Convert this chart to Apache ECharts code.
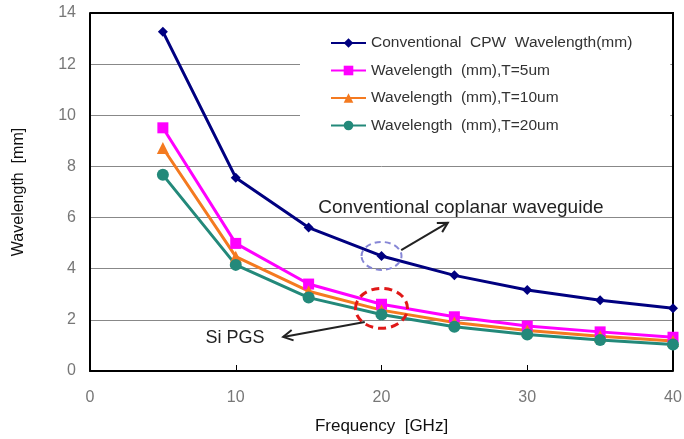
<!DOCTYPE html>
<html>
<head>
<meta charset="utf-8">
<script src="https://cdn.jsdelivr.net/npm/echarts@6/dist/echarts.min.js"></script>
<style>
  html, body { margin: 0; padding: 0; background: #fff; }
  #chart { width: 684px; height: 439px; }
</style>
</head>
<body>
<div id="chart"></div>
<script>
// Frequency points (GHz)
const frequency = [5, 10, 15, 20, 25, 30, 35, 40];

// Guided wavelength (mm)
const cpwWavelength = [13.27, 7.56, 5.61, 4.50, 3.74, 3.17, 2.77, 2.45];
const pgsT5 = [9.51, 4.99, 3.40, 2.61, 2.12, 1.76, 1.53, 1.32];
const pgsT10 = [8.72, 4.47, 3.12, 2.38, 1.90, 1.58, 1.36, 1.17];
const pgsT20 = [7.67, 4.15, 2.87, 2.21, 1.73, 1.43, 1.21, 1.04];

const seriesNames = [
  'Conventional  CPW  Wavelength(mm)',
  'Wavelength  (mm),T=5um',
  'Wavelength  (mm),T=10um',
  'Wavelength  (mm),T=20um'
];

const xTicks = [0, 10, 20, 30, 40];
const yTicks = [0, 2, 4, 6, 8, 10, 12, 14];

const pair = (vals) => frequency.map((f, i) => [f, vals[i]]);

const chart = echarts.init(document.getElementById('chart'));

const labelFont = 'Liberation Sans, Arial, sans-serif';

function lineSeries(name, vals, color, symbol, size) {
  return {
    name: name,
    type: 'line',
    data: pair(vals),
    symbol: symbol,
    symbolSize: size,
    showSymbol: true,
    lineStyle: { color: color, width: 3 },
    itemStyle: { color: color },
    z: 3
  };
}

chart.setOption({
  animation: false,
  backgroundColor: '#fff',
  grid: { left: 90, right: 11, top: 13, bottom: 68, show: false, outerBoundsMode: 'none' },
  xAxis: {
    type: 'value',
    min: xTicks[0],
    max: xTicks[xTicks.length - 1],
    interval: 10,
    name: 'Frequency  [GHz]',
    nameLocation: 'middle',
    nameGap: 47,
    nameTextStyle: { color: '#111', fontSize: 17, fontFamily: labelFont },
    axisLine: { show: true, lineStyle: { color: '#000', width: 2 } },
    axisTick: { show: true, inside: true, length: 6, lineStyle: { color: '#000' } },
    axisLabel: { color: '#777', fontSize: 16, margin: 19, fontFamily: labelFont },
    splitLine: { show: false }
  },
  yAxis: {
    type: 'value',
    min: yTicks[0],
    max: yTicks[yTicks.length - 1],
    interval: 2,
    name: 'Wavelength  [mm]',
    nameLocation: 'middle',
    nameGap: 63,
    nameTextStyle: { color: '#111', fontSize: 16, fontFamily: labelFont },
    axisLine: { show: true, lineStyle: { color: '#000', width: 2 } },
    axisTick: { show: false },
    axisLabel: { color: '#777', fontSize: 16, margin: 14, fontFamily: labelFont },
    splitLine: { show: true, lineStyle: { color: '#888', width: 1 } }
  },
  legend: {
    left: 300,
    top: 21,
    orient: 'vertical',
    backgroundColor: '#fff',
    padding: [14, 38, 14, 30],
    itemWidth: 35,
    itemHeight: 12,
    itemGap: 11.5,
    textStyle: { color: '#333', fontSize: 15.5, fontFamily: labelFont },
    data: seriesNames
  },
  series: [
    lineSeries(seriesNames[0], cpwWavelength, '#000080', 'diamond', 10),
    lineSeries(seriesNames[1], pgsT5, '#ff00ff', 'rect', 11),
    lineSeries(seriesNames[2], pgsT10, '#f47a20', 'triangle', 12),
    lineSeries(seriesNames[3], pgsT20, '#23897a', 'circle', 12)
  ]
});

const px = (x, y) => chart.convertToPixel({ gridIndex: 0 }, [x, y]);

// Open-headed arrow between two data positions
function arrow(from, to, color) {
  const a = px(from[0], from[1]);
  const b = px(to[0], to[1]);
  const ang = Math.atan2(b[1] - a[1], b[0] - a[0]);
  const len = 11, spread = 0.5;
  const h1 = [b[0] - len * Math.cos(ang - spread), b[1] - len * Math.sin(ang - spread)];
  const h2 = [b[0] - len * Math.cos(ang + spread), b[1] - len * Math.sin(ang + spread)];
  return [
    { type: 'line', z: 10, shape: { x1: a[0], y1: a[1], x2: b[0], y2: b[1] },
      style: { stroke: color, lineWidth: 2 } },
    { type: 'polyline', z: 10, shape: { points: [h1, b, h2] },
      style: { stroke: color, lineWidth: 2, fill: null } }
  ];
}

const tl = px(xTicks[0], yTicks[yTicks.length - 1]);
const br = px(xTicks[xTicks.length - 1], yTicks[0]);
const cpwMark = px(20, 4.50);
const pgsMark = px(20, 2.45);
const t1 = px(25.45, 6.40);
const t2 = px(9.95, 1.29);

chart.setOption({
  graphic: [
    // top and right edges of the plot frame
    { type: 'polyline', z: 2, shape: { points: [[tl[0], tl[1]], [br[0], tl[1]], [br[0], br[1]]] },
      style: { stroke: '#000', lineWidth: 2, fill: null } },
    { type: 'ellipse', z: 10, shape: { cx: cpwMark[0], cy: cpwMark[1], rx: 20, ry: 14 },
      style: { stroke: '#8686d6', lineWidth: 2, lineDash: [6, 4], fill: null } },
    { type: 'ellipse', z: 10, shape: { cx: pgsMark[0], cy: pgsMark[1], rx: 26, ry: 20 },
      style: { stroke: '#e01818', lineWidth: 3, lineDash: [8, 5], fill: null } },
    ...arrow([21.35, 4.73], [24.55, 5.80], '#222'),
    ...arrow([18.85, 1.92], [13.25, 1.33], '#222'),
    { type: 'text', z: 10, x: t1[0], y: t1[1],
      style: { text: 'Conventional coplanar waveguide', fill: '#222', fontSize: 19,
               fontFamily: labelFont, align: 'center', verticalAlign: 'middle' } },
    { type: 'text', z: 10, x: t2[0], y: t2[1],
      style: { text: 'Si PGS', fill: '#222', fontSize: 18,
               fontFamily: labelFont, align: 'center', verticalAlign: 'middle' } }
  ]
});
</script>
</body>
</html>
